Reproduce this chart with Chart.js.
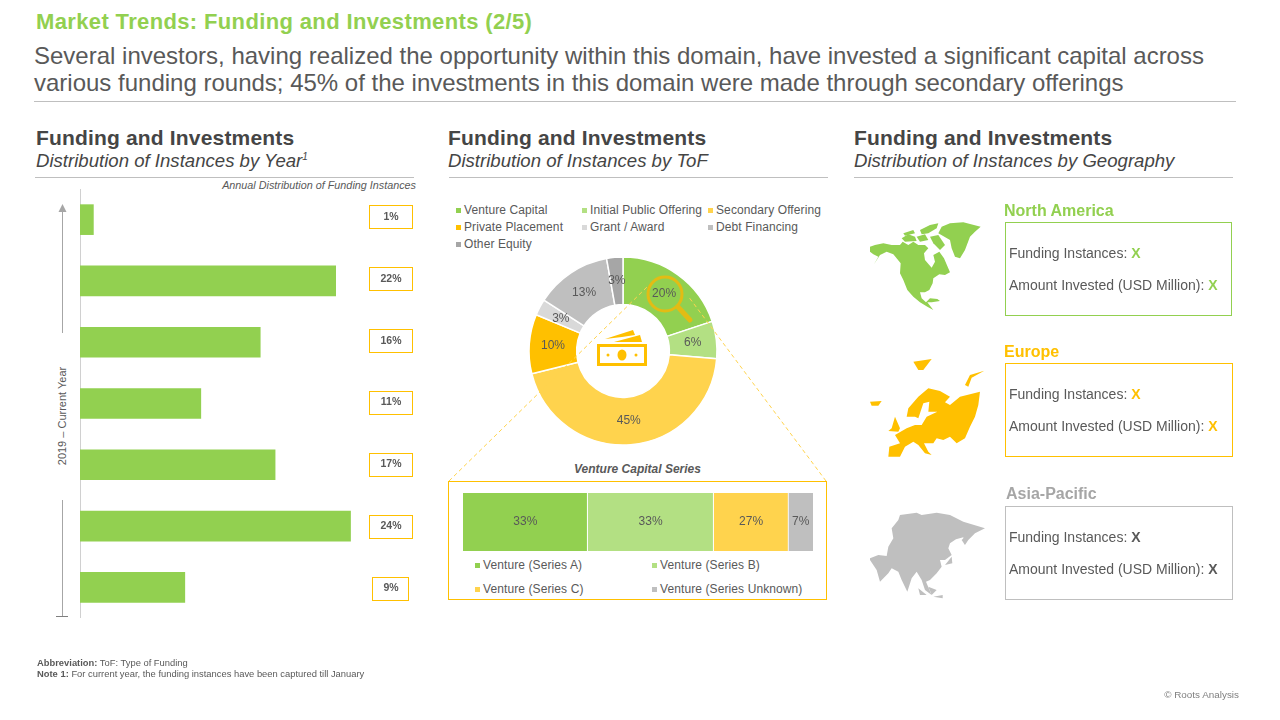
<!DOCTYPE html>
<html>
<head>
<meta charset="utf-8">
<title>Market Trends: Funding and Investments</title>
<script src="https://cdn.jsdelivr.net/npm/chart.js@4"></script>
<style>
  html, body { margin: 0; padding: 0; background: #fff; }
  body { width: 1280px; height: 720px; position: relative; overflow: hidden; font-family: "Liberation Sans", Arial, sans-serif; color: #595959; }
  .t { position: absolute; white-space: nowrap; line-height: 1; }
  .rule { position: absolute; height: 1px; background: #bfbfbf; }
  .box { position: absolute; box-sizing: border-box; background: transparent; }
  canvas { position: absolute; }
  svg { position: absolute; left: 0; top: 0; }
  .sq { position: absolute; width: 5px; height: 5px; }
  .head { font-size: 21px; letter-spacing: 0.17px; font-weight: bold; color: #454545; }
  .sub { font-size: 18.6px; font-style: italic; color: #454545; }
  .line { font-size: 14px; }
  .line b { font-size: 14px; }
</style>
</head>
<body>
<div class="t" style="left:36px;top:11px;font-size:22px;letter-spacing:0.36px;font-weight:bold;color:#92D050">Market Trends: Funding and Investments (2/5)</div>
<div class="t" style="left:34px;top:44px;font-size:24px">Several investors, having realized the opportunity within this domain, have invested a significant capital across</div>
<div class="t" style="left:34px;top:71px;font-size:24px">various funding rounds; 45% of the investments in this domain were made through secondary offerings</div>
<div class="rule" style="left:34px;top:101px;width:1202px"></div>

<div class="t head" style="left:36px;top:127px">Funding and Investments</div>
<div class="t sub" style="left:36px;top:152px">Distribution of Instances by Year<sup style="font-size:10px;line-height:0">1</sup></div>
<div class="rule" style="left:35px;top:177px;width:379px"></div>
<div class="t" style="right:864px;top:180px;font-size:10.8px;font-style:italic">Annual Distribution of Funding Instances</div>
<div class="t" style="left:62px;top:416px;font-size:11px;transform:translate(-50%,-50%) rotate(-90deg)">2019 – Current Year</div>

<div class="t head" style="left:448px;top:127px">Funding and Investments</div>
<div class="t sub" style="left:448px;top:152px">Distribution of Instances by ToF</div>
<div class="rule" style="left:449px;top:177px;width:379px"></div>

<div class="t head" style="left:854px;top:127px">Funding and Investments</div>
<div class="t sub" style="left:854px;top:152px">Distribution of Instances by Geography</div>
<div class="rule" style="left:854px;top:177px;width:379px"></div>

<canvas id="yearChart" width="346" height="429" style="left:78px;top:189px"></canvas>
<canvas id="tofChart" width="192" height="192" style="left:527px;top:255px"></canvas>
<div class="box" style="left:448px;top:481px;width:379px;height:119px;border:1.3px solid #FFC000"></div>
<div class="t" style="left:637.5px;top:463px;font-size:12px;font-weight:bold;font-style:italic;transform:translateX(-50%)">Venture Capital Series</div>
<canvas id="ventureChart" width="350" height="58" style="left:463px;top:493px"></canvas>
<div id="tofLegend"></div>
<div id="ventureLegend"></div>

<svg width="1280" height="720" fill="none">
  <!-- year arrow -->
  <g stroke="#a6a6a6" stroke-width="1">
    <line x1="62.5" y1="212" x2="62.5" y2="333"/>
    <line x1="62.5" y1="500" x2="62.5" y2="616"/>
    <line x1="56" y1="616.5" x2="68" y2="616.5" stroke="#7f7f7f"/>
  </g>
  <polygon points="62.5,204 58.5,212 66.5,212" fill="#a6a6a6"/>
  <!-- zoom lines from donut to the venture box -->
  <g stroke="#FFD34D" stroke-width="1" stroke-dasharray="4 3">
    <line x1="449" y1="481" x2="647" y2="287"/>
    <line x1="826" y1="481" x2="688" y2="296"/>
  </g>
  <!-- magnifier -->
  <circle cx="665" cy="294" r="17" stroke="#E3BC14" stroke-width="3"/>
  <line x1="678" y1="307" x2="690" y2="320" stroke="#E3BC14" stroke-width="5" stroke-linecap="round"/>
  <!-- money icon -->
  <polygon points="605,339 633,330 635,335 622,337" fill="#FFC000"/>
  <polygon points="614,342 640,335 642,342" fill="#FFC000"/>
  <rect x="598.5" y="345.5" width="47" height="19" stroke="#FFC000" stroke-width="3"/>
  <ellipse cx="622" cy="355" rx="4.5" ry="5.5" fill="#FFC000"/>
  <circle cx="608" cy="355" r="1.5" fill="#FFC000"/>
  <circle cx="636" cy="355" r="1.5" fill="#FFC000"/>
  <!-- north america -->
  <g transform="translate(850,195) scale(0.3333)" fill="#92D050">
    <polygon points="60,155 75,150 100,145 125,150 150,150 158,140 175,150 190,140 205,150 225,150 235,160 222,175 225,195 245,218 255,200 250,180 268,170 282,190 300,232 285,240 268,238 250,250 248,265 238,285 225,292 210,292 215,310 228,322 240,310 262,312 270,318 245,322 232,322 250,345 232,335 210,322 190,305 172,285 160,255 150,235 152,205 130,178 110,170 90,180 72,208 85,185 70,178 60,170"/>
    <polygon points="265,115 275,95 300,85 340,82 392,95 375,110 360,125 345,165 330,190 315,185 305,160 300,135"/>
    <polygon points="155,130 175,118 195,125 200,138 165,140"/>
    <polygon points="200,125 225,118 235,135 210,140"/>
    <polygon points="240,125 265,120 285,150 270,165 250,145"/>
    <polygon points="210,105 240,90 265,85 260,100 235,115 215,118"/>
    <polygon points="160,115 190,105 195,115 165,122"/>
  </g>
  <!-- europe -->
  <g transform="translate(850,195) scale(0.3333)" fill="#FFC000">
    <polygon points="135,720 170,700 195,690 215,690 230,665 262,650 235,650 238,620 220,625 205,670 195,665 170,665 175,640 205,605 235,580 270,588 300,605 285,622 300,630 330,605 390,590 385,630 375,665 360,695 345,730 320,745 300,725 280,735 260,730 250,745 222,745 235,770 245,780 225,775 205,750 190,740 165,755 150,785 115,785 118,755 150,745"/>
    <polygon points="125,700 135,665 150,700 145,710 115,708"/>
    <polygon points="60,620 95,618 85,632 65,632"/>
    <polygon points="190,500 245,492 220,525 205,525"/>
    <polygon points="345,570 360,540 403,527 365,548 355,575"/>
  </g>
  <!-- asia-pacific -->
  <g transform="translate(850,480) scale(0.3333)" fill="#BFBFBF">
    <polygon points="150,105 200,98 215,105 260,98 300,105 340,125 405,145 375,160 355,180 345,195 340,172 318,178 300,190 295,205 305,225 285,240 270,240 275,260 260,280 240,300 228,305 245,345 225,330 215,300 200,275 185,295 172,335 155,300 145,275 125,265 115,280 90,305 80,270 60,240 60,235 85,225 110,228 115,200 130,175 125,145 145,120"/>
    <polygon points="285,255 305,230 307,250"/>
    <polygon points="235,320 260,330 245,345"/>
    <polygon points="205,325 230,345 210,345"/>
    <polygon points="250,350 278,345 278,355"/>
    <polygon points="335,180 345,170 345,195"/>
  </g>
</svg>

<div class="t" style="left:1004px;top:203px;font-size:16px;font-weight:bold;color:#92D050">North America</div>
<div class="box" style="left:1005px;top:222px;width:227px;height:94px;border:1px solid #92D050"></div>
<div class="t line" style="left:1009px;top:246px">Funding Instances: <b style="color:#92D050">X</b></div>
<div class="t line" style="left:1009px;top:278px">Amount Invested (USD Million): <b style="color:#92D050">X</b></div>

<div class="t" style="left:1004px;top:344px;font-size:16px;font-weight:bold;color:#FFC000">Europe</div>
<div class="box" style="left:1005px;top:363px;width:228px;height:94px;border:1px solid #FFC000"></div>
<div class="t line" style="left:1009px;top:387px">Funding Instances: <b style="color:#FFC000">X</b></div>
<div class="t line" style="left:1009px;top:419px">Amount Invested (USD Million): <b style="color:#FFC000">X</b></div>

<div class="t" style="left:1006px;top:486px;font-size:16px;font-weight:bold;color:#a6a6a6">Asia-Pacific</div>
<div class="box" style="left:1005px;top:506px;width:228px;height:94px;border:1px solid #bfbfbf"></div>
<div class="t line" style="left:1009px;top:530px">Funding Instances: <b>X</b></div>
<div class="t line" style="left:1009px;top:562px">Amount Invested (USD Million): <b>X</b></div>

<div class="t" style="left:37px;top:658px;font-size:9.4px"><b>Abbreviation:</b> ToF: Type of Funding</div>
<div class="t" style="left:37px;top:669px;font-size:9.4px"><b>Note 1:</b> For current year, the funding instances have been captured till January</div>
<div class="t" style="right:41px;top:690px;font-size:9.9px;color:#7f7f7f">© Roots Analysis</div>

<script>
// bars have no year labels in the picture, top row is the current year
const yearRows = ['Current Year', 'Y2', 'Y3', 'Y4', 'Y5', 'Y6', '2019'];
const yearValues = [1.2, 22.4, 15.8, 10.6, 17.1, 23.7, 9.2];

const tofNames = ['Venture Capital', 'Initial Public Offering', 'Secondary Offering', 'Private Placement', 'Grant / Award', 'Debt Financing', 'Other Equity'];
const tofValues = [19.9, 6.4, 44.8, 10.2, 2.8, 13.1, 2.8];
const tofColors = ['#92D050', '#B3E083', '#FFD34D', '#FFC000', '#D9D9D9', '#BFBFBF', '#A6A6A6'];

// widths as drawn in the picture, the printed labels do not follow them
const ventureNames = ['Venture (Series A)', 'Venture (Series B)', 'Venture (Series C)', 'Venture (Series Unknown)'];
const ventureWidths = [35.6, 36, 21.4, 7];
const ventureLabels = ['33%', '33%', '27%', '7%'];
const ventureColors = ['#92D050', '#B3E083', '#FFD34D', '#BFBFBF'];

Chart.defaults.font.family = '"Liberation Sans", Arial, sans-serif';
Chart.defaults.animation = false;
Chart.defaults.responsive = false;
Chart.defaults.devicePixelRatio = 1;
Chart.defaults.plugins.legend.display = false;
Chart.defaults.plugins.tooltip.enabled = false;

function legendItem(host, name, color, sqX, textX, y) {
    const sq = document.createElement('div');
    sq.className = 'sq';
    sq.style.cssText = `left:${sqX}px;top:${y - 2}px;background:${color}`;
    const txt = document.createElement('div');
    txt.className = 't';
    txt.style.cssText = `left:${textX}px;top:${y - 6}px;font-size:12px;letter-spacing:0.1px`;
    txt.textContent = name;
    host.append(sq, txt);
}

const tofLegend = document.getElementById('tofLegend');
tofNames.forEach((n, i) => {
    const col = i % 3, row = Math.floor(i / 3);
    legendItem(tofLegend, n, tofColors[i], 456 + col * 126, 464 + col * 126, 209.5 + row * 17);
});
const ventureLegend = document.getElementById('ventureLegend');
ventureNames.forEach((n, i) => {
    const col = i % 2, row = Math.floor(i / 2);
    legendItem(ventureLegend, n, ventureColors[i], 475 + col * 177, 483 + col * 177, 565 + row * 24);
});

// the boxed percentages at the right of the year bars, their rows sit a bit wider apart than the bars
const yearBoxes = {
    id: 'yearBoxes',
    afterDatasetsDraw(chart) {
        const ctx = chart.ctx;
        const bars = chart.getDatasetMeta(0).data;
        ctx.save();
        ctx.font = 'bold 10.5px "Liberation Sans"';
        ctx.textAlign = 'center';
        ctx.textBaseline = 'middle';
        bars.forEach((bar, i) => {
            const w = i === 6 ? 36 : 43;
            const cy = bar.y - 2.8 + i * 0.6;
            ctx.strokeStyle = '#FFC000';
            ctx.lineWidth = 1;
            ctx.strokeRect(Math.floor(312.5 - w / 2) + 0.5, Math.round(cy - 11.5) + 0.5, w, 23);
            ctx.fillStyle = '#595959';
            ctx.fillText(Math.round(yearValues[i]) + '%', 313, cy);
        });
        ctx.restore();
    }
};

const sliceLabels = {
    id: 'sliceLabels',
    afterDatasetsDraw(chart) {
        const ctx = chart.ctx;
        ctx.save();
        ctx.font = '12px "Liberation Sans"';
        ctx.fillStyle = '#595959';
        ctx.textAlign = 'center';
        ctx.textBaseline = 'middle';
        chart.getDatasetMeta(0).data.forEach((arc, i) => {
            const p = arc.tooltipPosition();
            ctx.fillText(Math.round(tofValues[i]) + '%', p.x, p.y);
        });
        ctx.restore();
    }
};

const stackLabels = {
    id: 'stackLabels',
    afterDatasetsDraw(chart) {
        const ctx = chart.ctx;
        ctx.save();
        ctx.font = '12px "Liberation Sans"';
        ctx.fillStyle = '#595959';
        ctx.textAlign = 'center';
        ctx.textBaseline = 'middle';
        chart.data.datasets.forEach((ds, i) => {
            const bar = chart.getDatasetMeta(i).data[0];
            ctx.fillText(ventureLabels[i], (bar.x + bar.base) / 2, bar.y);
        });
        ctx.restore();
    }
};

new Chart(document.getElementById('yearChart'), {
    type: 'bar',
    data: {
        labels: yearRows,
        datasets: [{ data: yearValues, backgroundColor: '#92D050', barPercentage: 0.5, categoryPercentage: 1 }]
    },
    options: {
        indexAxis: 'y',
        layout: { padding: 0 },
        scales: {
            x: { display: false, min: 0, max: 30.1 },
            y: {
                afterFit: s => { s.width = 2; },
                grid: { display: false, drawTicks: false },
                border: { color: '#d0d0d0' },
                ticks: { display: false }
            }
        }
    },
    plugins: [yearBoxes]
});

new Chart(document.getElementById('tofChart'), {
    type: 'doughnut',
    data: {
        labels: tofNames,
        datasets: [{ data: tofValues, backgroundColor: tofColors, borderColor: '#fff', borderWidth: 1.5 }]
    },
    options: { radius: 94, cutout: 47, layout: { padding: 0 } },
    plugins: [sliceLabels]
});

new Chart(document.getElementById('ventureChart'), {
    type: 'bar',
    data: {
        labels: ['Venture Capital Series'],
        datasets: ventureNames.map((n, i) => ({
            label: n,
            data: [ventureWidths[i]],
            backgroundColor: ventureColors[i],
            borderColor: '#fff',
            borderWidth: { right: i < 3 ? 1 : 0 },
            borderSkipped: false,
            barPercentage: 1,
            categoryPercentage: 1
        }))
    },
    options: {
        indexAxis: 'y',
        layout: { padding: 0 },
        scales: {
            x: { display: false, stacked: true, min: 0, max: 100 },
            y: { display: false, stacked: true }
        }
    },
    plugins: [stackLabels]
});
</script>
</body>
</html>
